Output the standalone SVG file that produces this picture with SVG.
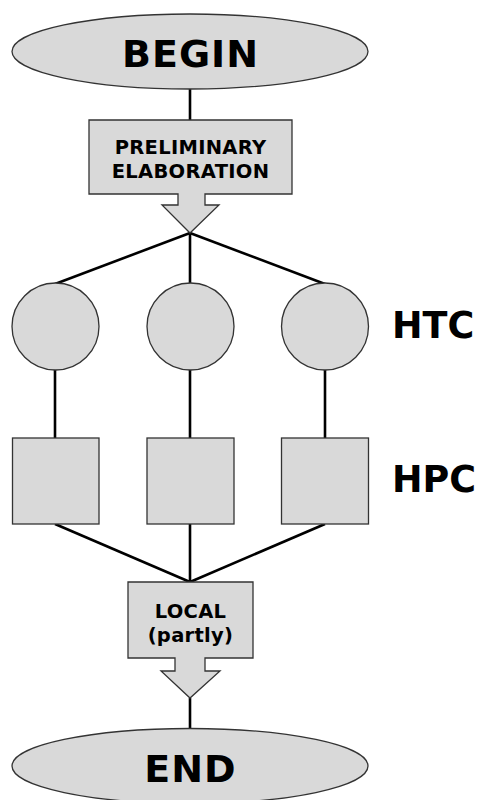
<svg xmlns="http://www.w3.org/2000/svg" width="478" height="800" viewBox="0 0 478 800">
<style>
.n{fill:#d9d9d9;stroke:#333;stroke-width:1.3}
.c{stroke:#000;stroke-width:2.6;fill:none}
.t{font-family:"DejaVu Sans",Verdana,sans-serif;font-weight:bold;fill:#000;text-anchor:middle}
.big{font-size:38px;letter-spacing:1px}
.sm{font-size:19.5px;letter-spacing:0.3px}
.lbl{font-family:"DejaVu Sans",Verdana,sans-serif;font-weight:bold;font-size:36.5px;fill:#000}
</style>
<rect width="478" height="800" fill="#fff"/>
<g id="connectors">
<line class="c" x1="190" y1="89" x2="190" y2="120"/>
<line class="c" x1="190" y1="233" x2="55" y2="284"/>
<line class="c" x1="190" y1="233" x2="190" y2="284"/>
<line class="c" x1="190" y1="233" x2="325" y2="284"/>
<line class="c" x1="55" y1="370" x2="55" y2="438"/>
<line class="c" x1="190" y1="370" x2="190" y2="438"/>
<line class="c" x1="325" y1="370" x2="325" y2="438"/>
<line class="c" x1="55" y1="524" x2="190" y2="582"/>
<line class="c" x1="190" y1="524" x2="190" y2="582"/>
<line class="c" x1="325" y1="524" x2="190" y2="582"/>
<line class="c" x1="190" y1="698" x2="190" y2="729"/>
</g>
<g id="begin">
<ellipse class="n" cx="190" cy="51.5" rx="178" ry="37.5"/>
<text class="t big" x="190.5" y="67">BEGIN</text>
</g>
<g id="preliminary">
<path class="n" d="M89 120 H292 V194 H205 V205 H219 L190 233 L162 205 H178 V194 H89 Z"/>
<text class="t sm" x="190.5" y="154">PRELIMINARY</text>
<text class="t sm" x="190.5" y="178">ELABORATION</text>
</g>
<g id="htc1"><circle class="n" cx="55.5" cy="326.5" r="43.5"/></g>
<g id="htc2"><circle class="n" cx="190.5" cy="326.5" r="43.5"/></g>
<g id="htc3"><circle class="n" cx="325" cy="326.5" r="43.5"/></g>
<g id="htc-label"><text class="lbl" x="392" y="338">HTC</text></g>
<g id="hpc1"><rect class="n" x="12.5" y="438" width="86.5" height="86"/></g>
<g id="hpc2"><rect class="n" x="147" y="438" width="87" height="86"/></g>
<g id="hpc3"><rect class="n" x="281.5" y="438" width="87" height="86"/></g>
<g id="hpc-label"><text class="lbl" x="392" y="492">HPC</text></g>
<g id="local">
<path class="n" d="M128 582 H253 V658 H205 V671 H220 L190 698 L161 671 H175 V658 H128 Z"/>
<text class="t sm" x="190.5" y="618">LOCAL</text>
<text class="t sm" x="190.5" y="642">(partly)</text>
</g>
<g id="end">
<ellipse class="n" cx="190" cy="766" rx="178" ry="37.5"/>
<text class="t big" x="190.5" y="782">END</text>
</g>
</svg>
